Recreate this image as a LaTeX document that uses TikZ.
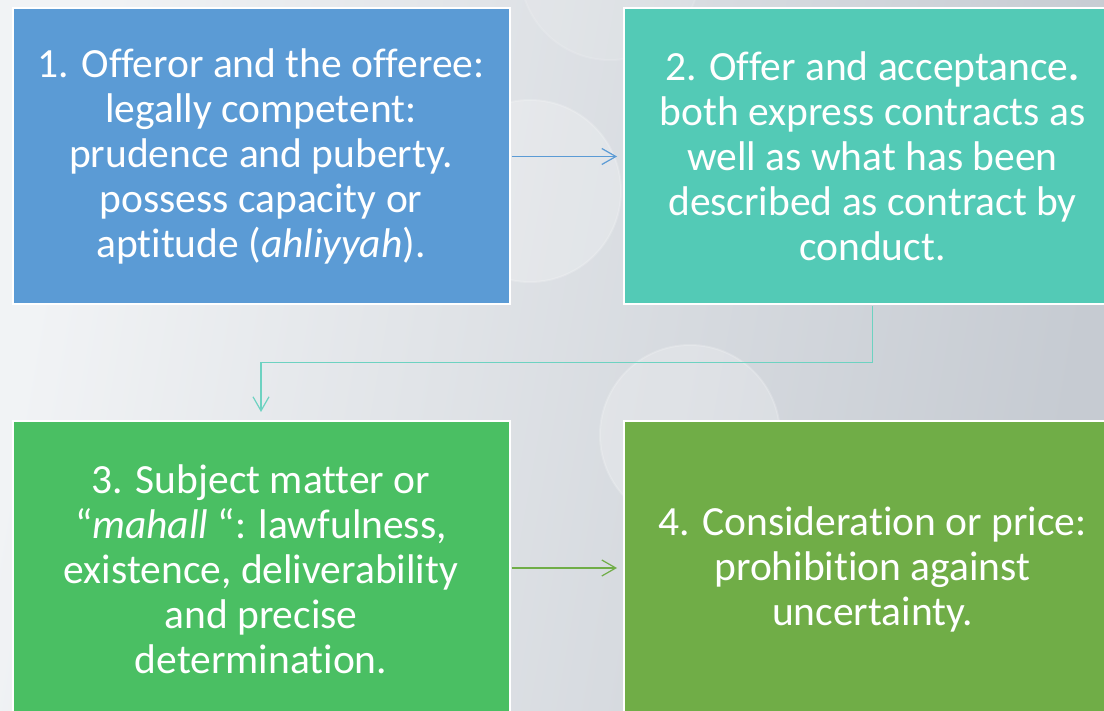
\documentclass[tikz,border=0pt]{standalone}
\usepackage{fontspec}
\setmainfont[RawFeature={-liga}]{Carlito}
\usetikzlibrary{arrows.meta,calc}
\definecolor{bgL}{HTML}{F1F3F5}
\definecolor{bgR}{HTML}{C6CBD2}
\definecolor{boxA}{HTML}{5B9BD5}
\definecolor{boxB}{HTML}{53CAB6}
\definecolor{boxC}{HTML}{4ABF63}
\definecolor{boxD}{HTML}{70AD47}
\tikzset{
  card/.style={draw=white, line width=2pt, minimum width=497pt, minimum height=296pt,
    inner sep=0pt, align=center, text=white,
    font=\fontsize{41.5pt}{45pt}\selectfont},
  link/.style={line width=1.2pt, -{Straight Barb[length=14pt,width=16pt,line width=1.2pt]}},
  glow/.style={fill=white, draw=white, line width=2pt, draw opacity=0.18, fill opacity=0.22}
}
\begin{document}
\begin{tikzpicture}[x=1pt,y=-1pt]
  \useasboundingbox (0,0) rectangle (1104,711);
  % backdrop
  \shade[left color=bgL, right color=bgR, shading angle=80] (0,0) rectangle (1104,711);
  \path[glow] (530,191) circle (91pt);
  \path[glow] (690,435) circle (90pt);
  \path[glow, fill opacity=0.1, draw opacity=0.12] (610,-30) circle (90pt);
  % cards
  \node[card, fill=boxA] (b1) at (261,156.5) {1. Offeror and the offeree:\\legally competent:\\prudence and puberty.\\possess capacity or\\aptitude (\textit{ahliyyah}).};
  \node[card, fill=boxB] (b2) at (872.5,156.5) {2. Offer and acceptance\textbf{.}\\both express contracts as\\well as what has been\\described as contract by\\conduct.};
  \node[card, fill=boxC] (b3) at (261,569) {3. Subject matter or\\“\textit{mahall} “: lawfulness,\\existence, deliverability\\and precise\\determination.};
  \node[card, fill=boxD] (b4) at (872.5,569) {4. Consideration or price:\\prohibition against\\uncertainty.};
  % connectors
  \draw[link, boxA, shorten <=1pt, shorten >=6pt] (b1.east) -- (b2.west);
  \draw[link, boxB!85!white, shorten <=1pt, shorten >=8pt] (b2.south) -- ++(0,57) -| (b3.north);
  \draw[link, boxD, shorten <=1pt, shorten >=6pt] ($(b3.east)+(0,-1)$) -- ($(b4.west)+(0,-1)$);
\end{tikzpicture}
\end{document}
